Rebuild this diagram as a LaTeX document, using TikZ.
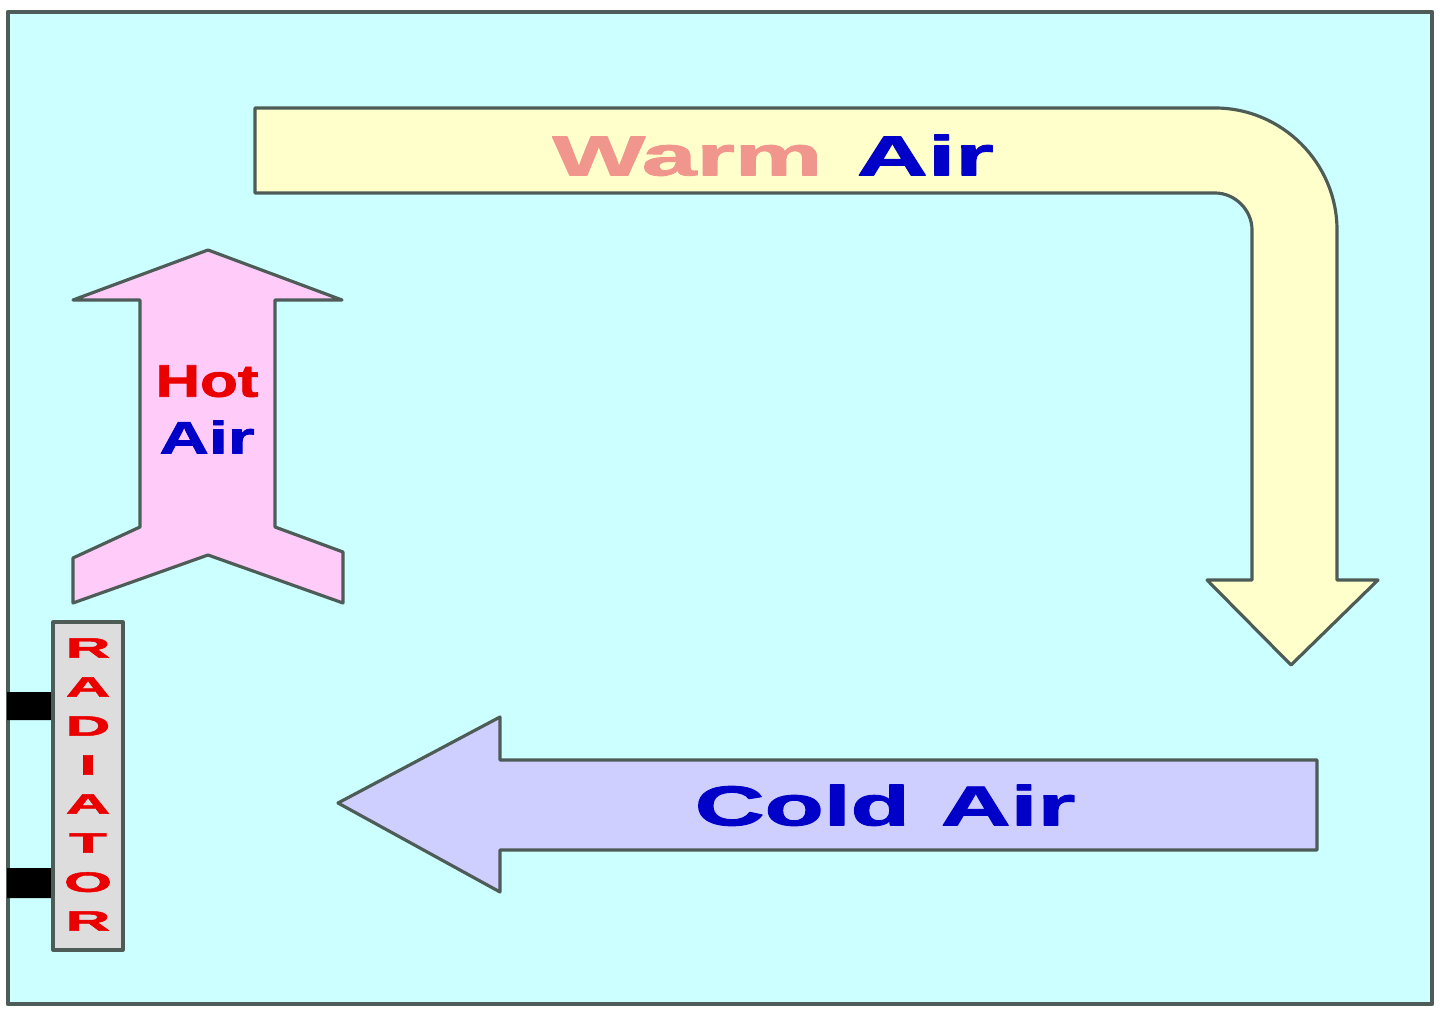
\documentclass[tikz,border=0pt]{standalone}
\usepackage{fontspec}
\setmainfont{Liberation Sans}[BoldFeatures={FakeBold=1.5}]
\definecolor{bgcyan}{RGB}{204,255,255}
\definecolor{warmfill}{RGB}{255,255,204}
\definecolor{hotfill}{RGB}{255,204,250}
\definecolor{coldfill}{RGB}{206,206,255}
\definecolor{radfill}{RGB}{221,221,221}
\definecolor{edgegray}{RGB}{78,92,88}
\definecolor{airblue}{RGB}{0,0,200}
\definecolor{hotred}{RGB}{235,0,0}
\definecolor{warmpink}{RGB}{240,150,140}
\begin{document}
\begin{tikzpicture}[x=0.01cm, y=-0.01cm, line join=round, line cap=round, font=\bfseries,
  edge/.style={draw=edgegray, line width=0.9pt},
  lbl/.style={inner sep=0, text depth=0pt}]
\useasboundingbox (0,0) rectangle (1440,1016);
\fill[white] (0,0) rectangle (1440,1016);
\path (8,12) coordinate (F1) (1432,1004) coordinate (F2);
\draw[edge, line width=1.2pt, fill=bgcyan] (F1) rectangle (F2);
% warm air, bending down on the right
\draw[edge, fill=warmfill] (255,108) -- (1215,108) .. controls (1282,108) and (1337,163) .. (1337,230)
  -- (1337,580) -- (1378,580) -- (1291,665) -- (1207,580) -- (1252,580) -- (1252,230)
  .. controls (1252,210) and (1235,193) .. (1215,193) -- (255,193) -- cycle;
\node[lbl] (warm) at (773,155) {\scalebox{1.75}[1]{\fontsize{16}{16}\selectfont\color{warmpink}Warm\hspace{0.35em}\color{airblue}Air}};
% cold air along the floor
\draw[edge, fill=coldfill] (338,803) -- (500,717) -- (500,760) -- (1317,760) -- (1317,850) -- (500,850) -- (500,892) -- cycle;
\node[lbl] (cold) at (885,805) {\scalebox{1.72}[1]{\fontsize{16}{16}\selectfont\color{airblue}Cold\hspace{0.32em}Air}};
% hot air rising
\draw[edge, fill=hotfill] (208,250) -- (342,300) -- (275,300) -- (275,527) -- (343,552) -- (343,603)
  -- (208,555) -- (73,603) -- (73,558) -- (140,527) -- (140,300) -- (73,300) -- cycle;
\node[lbl] (hot) at (207,381) {\scalebox{1.35}[1]{\fontsize{13}{13}\selectfont\color{hotred}Hot}};
\node[lbl] (hotair) at (207,437) {\scalebox{1.5}[1]{\fontsize{13}{13}\selectfont\color{airblue}Air}};
% radiator
\fill[black] (7,692) rectangle (53,720) (7,868) rectangle (53,898);
\draw[edge, fill=radfill] (53,622) rectangle (123,950);
\foreach \l [count=\i] in {R,A,D,I,A,T,O,R}{\node[lbl] (rad\i) at (88,609+39*\i) {\scalebox{2.2}[1]{\fontsize{8}{8}\selectfont\color{hotred}\l}};}
\end{tikzpicture}
\end{document}
